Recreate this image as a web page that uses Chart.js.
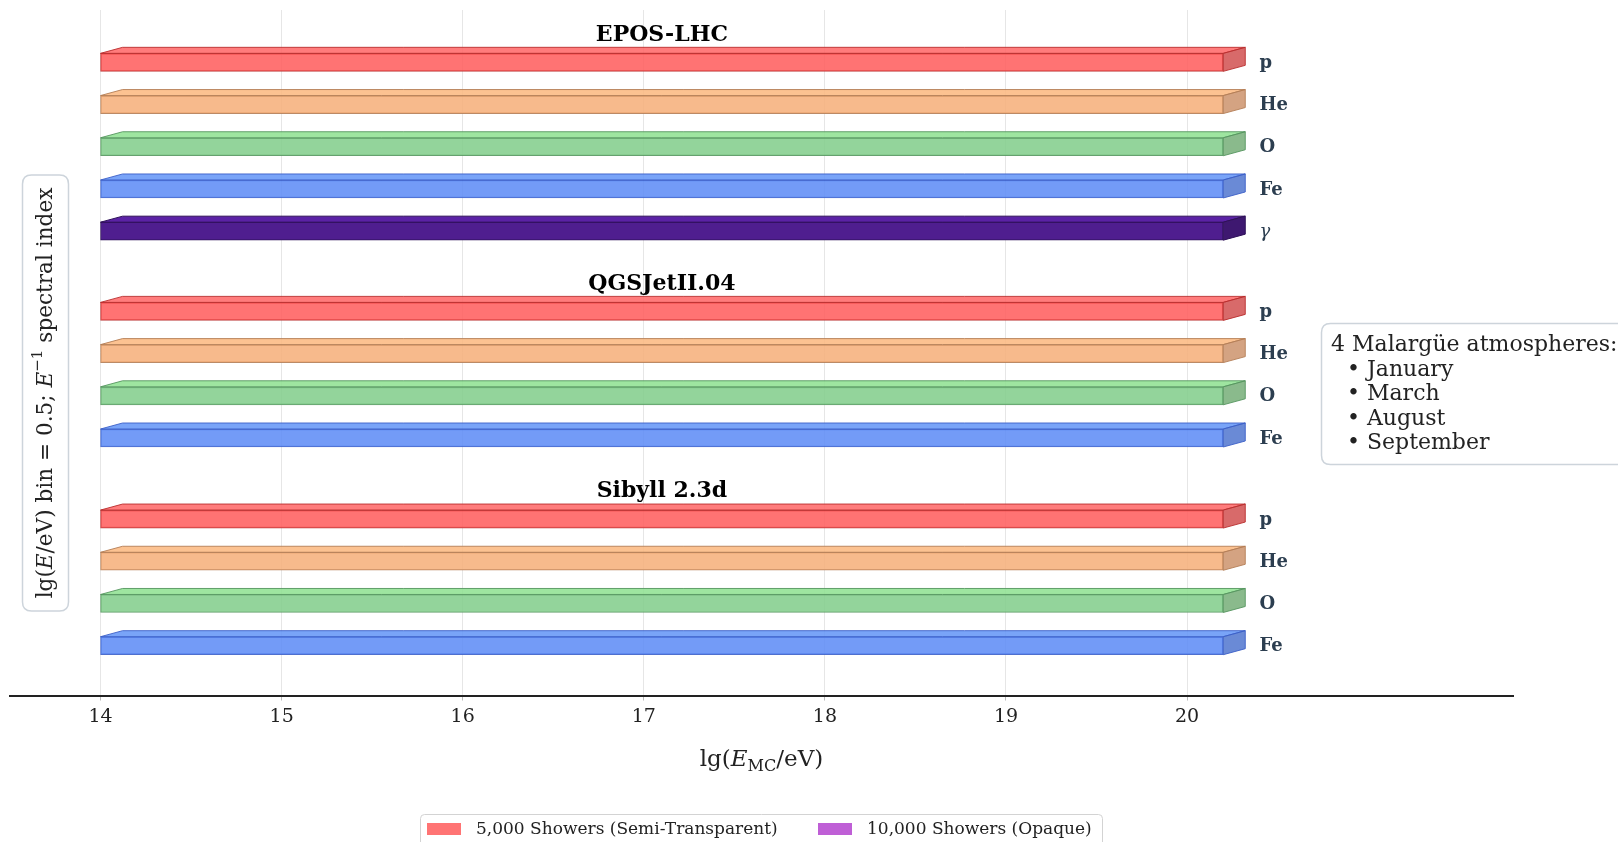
<!DOCTYPE html>
<html><head><meta charset="utf-8">
<script src="https://cdn.jsdelivr.net/npm/chart.js@4.4.1/dist/chart.umd.min.js"></script>
<style>html,body{margin:0;padding:0;background:#fff;overflow:hidden}#wrap{width:1618px;height:842px;position:relative}</style>
</head><body><div id="wrap"><canvas id="c" width="1618" height="842"></canvas></div>
<script>
// ---- data ----
const models = ['EPOS-LHC', 'QGSJetII.04', 'Sibyll 2.3d'];
const groupStart = [0, 5.9, 10.82];
const speciesLabels = ['p','He','O','Fe','γ', 'p','He','O','Fe', 'p','He','O','Fe'];
const barY = [0,1,2,3,4, 5.9,6.9,7.9,8.9, 10.82,11.82,12.82,13.82];
const barStart = [14,14,14,14,14, 14,14,14,14, 14,14,14,14];
const barEnd = [20.2,20.2,20.2,20.2,20.2, 20.2,20.2,20.2,20.2, 20.2,20.2,20.2,20.2];
const tickValues = [14, 15, 16, 17, 18, 19, 20];
const legendLabels = ['5,000 Showers (Semi-Transparent)', '10,000 Showers (Opaque)'];
const atmosphereTitle = '4 Malargüe atmospheres:';
const atmospheres = ['January', 'March', 'August', 'September'];

// ---- styles ----
const ST = {
  'p':  {front:'rgba(255,91,91,0.85)',  top:'rgba(255,101,101,0.85)', side:'rgba(209,80,80,0.85)',  edge:'rgba(185,45,45,0.9)'},
  'He': {front:'rgba(246,174,120,0.85)',top:'rgba(252,183,126,0.85)', side:'rgba(204,147,108,0.85)',edge:'rgba(180,125,85,0.9)'},
  'O':  {front:'rgba(128,204,137,0.85)',top:'rgba(141,225,143,0.85)', side:'rgba(117,174,120,0.85)',edge:'rgba(85,150,95,0.9)'},
  'Fe': {front:'rgba(91,138,246,0.85)', top:'rgba(98,148,247,0.85)',  side:'rgba(80,117,207,0.85)', edge:'rgba(60,95,200,0.9)'},
  'γ':  {front:'#4f1e8f', top:'#5b22a5', side:'#3e1870', edge:'#2e1058'}
};
const SERIF = '"DejaVu Serif", serif';
const DX = 22, DY = 6;

function rr(ctx, x, y, w, h, r) {
  ctx.beginPath();
  ctx.moveTo(x + r, y); ctx.lineTo(x + w - r, y); ctx.quadraticCurveTo(x + w, y, x + w, y + r);
  ctx.lineTo(x + w, y + h - r); ctx.quadraticCurveTo(x + w, y + h, x + w - r, y + h);
  ctx.lineTo(x + r, y + h); ctx.quadraticCurveTo(x, y + h, x, y + h - r);
  ctx.lineTo(x, y + r); ctx.quadraticCurveTo(x, y, x + r, y); ctx.closePath();
}
function drawRuns(ctx, runs, x, y, size, color) {
  const fontOf = r => {
    const s = (r.sup || r.sub) ? size * 0.7 : size;
    return (r.it ? 'italic ' : '') + s + 'px ' + SERIF;
  };
  let total = 0;
  runs.forEach(r => { ctx.font = fontOf(r); r.w = ctx.measureText(r.t).width; total += r.w; });
  let cx = x - total / 2;
  ctx.fillStyle = color; ctx.textBaseline = 'alphabetic'; ctx.textAlign = 'left';
  runs.forEach(r => {
    ctx.font = fontOf(r);
    let oy = 0;
    if (r.sup) oy = -size * 0.42;
    if (r.sub) oy = size * 0.22;
    ctx.fillText(r.t, cx, y + oy);
    cx += r.w;
  });
}

const threeD = {
  id: 'threeD',
  afterDatasetsDraw(chart) {
    const ctx = chart.ctx;
    const meta = chart.getDatasetMeta(0);
    meta.data.forEach((el, i) => {
      const st = ST[speciesLabels[i]];
      const p = el.getProps(['x', 'y', 'base', 'height'], true);
      const l = Math.min(p.x, p.base), r = Math.max(p.x, p.base);
      const t = p.y - p.height / 2, b = p.y + p.height / 2;
      ctx.save();
      ctx.lineWidth = 1; ctx.strokeStyle = st.edge; ctx.lineJoin = 'round';
      ctx.beginPath();
      ctx.moveTo(l, t); ctx.lineTo(l + DX, t - DY); ctx.lineTo(r + DX, t - DY); ctx.lineTo(r, t); ctx.closePath();
      ctx.fillStyle = st.top; ctx.fill(); ctx.stroke();
      ctx.beginPath();
      ctx.moveTo(r, t); ctx.lineTo(r + DX, t - DY); ctx.lineTo(r + DX, b - DY); ctx.lineTo(r, b); ctx.closePath();
      ctx.fillStyle = st.side; ctx.fill(); ctx.stroke();
      ctx.restore();
    });
  }
};

const annotations = {
  id: 'annotations',
  afterDraw(chart) {
    const ctx = chart.ctx;
    const xs = chart.scales.x, ys = chart.scales.y;
    ctx.save();
    speciesLabels.forEach((s, i) => {
      const px = xs.getPixelForValue(20.4), py = ys.getPixelForValue(barY[i]);
      ctx.fillStyle = '#2c3e50'; ctx.textAlign = 'left'; ctx.textBaseline = 'middle';
      ctx.font = (s === 'γ' ? 'italic 18px ' : 'bold 18px ') + SERIF;
      ctx.fillText(s, px, py + 1);
    });
    models.forEach((m, g) => {
      const px = xs.getPixelForValue((14 + 20.2) / 2), py = ys.getPixelForValue(groupStart[g] - 0.65);
      ctx.fillStyle = '#000'; ctx.textAlign = 'center'; ctx.textBaseline = 'middle';
      ctx.font = 'bold 22px ' + SERIF;
      ctx.fillText(m, px, py);
    });
    drawRuns(ctx, [{t:'lg('}, {t:'E', it:true}, {t:'MC', sub:true}, {t:'/eV)'}], 761.5, 766, 23, '#222');
    ctx.lineWidth = 1.5; ctx.strokeStyle = '#cdd4db'; ctx.fillStyle = '#fff';
    rr(ctx, 22.5, 175, 46, 436, 9); ctx.fill(); ctx.stroke();
    ctx.save();
    ctx.translate(51.5, 393); ctx.rotate(-Math.PI / 2);
    drawRuns(ctx, [{t:'lg('}, {t:'E', it:true}, {t:'/eV) bin = 0.5; '}, {t:'E', it:true}, {t:'−1', sup:true}, {t:' spectral index'}], 0, 0, 21.6, '#222');
    ctx.restore();
    ctx.lineWidth = 1.5; ctx.strokeStyle = '#cdd4db'; ctx.fillStyle = '#fff';
    rr(ctx, 1321.5, 323.5, 340, 141, 9); ctx.fill(); ctx.stroke();
    ctx.fillStyle = '#222'; ctx.textAlign = 'left'; ctx.textBaseline = 'alphabetic';
    ctx.font = '22px ' + SERIF;
    ctx.fillText(atmosphereTitle, 1331, 351);
    atmospheres.forEach((a, i) => {
      ctx.fillText('• ' + a, 1347, 375.5 + i * 24.5);
    });
    ctx.lineWidth = 1; ctx.strokeStyle = '#d3d3d3'; ctx.fillStyle = '#fff';
    rr(ctx, 420.5, 814.5, 682, 40, 4); ctx.fill(); ctx.stroke();
    const legColors = ['rgba(255,116,116,1)', '#bf5fd6'];
    const patchX = [427, 818], textX = [476, 867];
    legendLabels.forEach((lab, i) => {
      ctx.fillStyle = legColors[i];
      ctx.fillRect(patchX[i], 823, 34, 12);
      ctx.fillStyle = '#222'; ctx.font = '17px ' + SERIF; ctx.textBaseline = 'middle';
      ctx.fillText(lab, textX[i], 830);
    });
    ctx.restore();
  }
};

new Chart(document.getElementById('c').getContext('2d'), {
  type: 'bar',
  data: {
    datasets: [{
      data: barY.map((y, i) => ({x: [barStart[i], barEnd[i]], y: y})),
      backgroundColor: speciesLabels.map(s => ST[s].front),
      borderColor: speciesLabels.map(s => ST[s].edge),
      borderWidth: 1,
      borderSkipped: false,
      barThickness: 18
    }]
  },
  options: {
    indexAxis: 'y',
    responsive: false,
    animation: false,
    devicePixelRatio: 1,
    layout: {padding: {left: 10, right: 105, top: 10, bottom: 0}},
    plugins: {legend: {display: false}, tooltip: {enabled: false}},
    scales: {
      x: {
        type: 'linear', min: 13.5, max: 21.8,
        afterBuildTicks: s => { s.ticks = tickValues.map(v => ({value: v})); },
        afterFit: s => { s.height = 146.5; },
        grid: {color: '#e6e6e6', lineWidth: 1, drawTicks: true, tickLength: 5, tickColor: '#bbbbbb'},
        border: {display: true, color: '#222', width: 2},
        ticks: {font: {family: 'DejaVu Serif', size: 19}, color: '#222', padding: 5, maxRotation: 0, autoSkip: false, callback: v => String(v)}
      },
      y: {type: 'linear', min: -1.24, max: 15, reverse: true, offset: false, display: false}
    }
  },
  plugins: [threeD, annotations]
});
</script></body></html>
